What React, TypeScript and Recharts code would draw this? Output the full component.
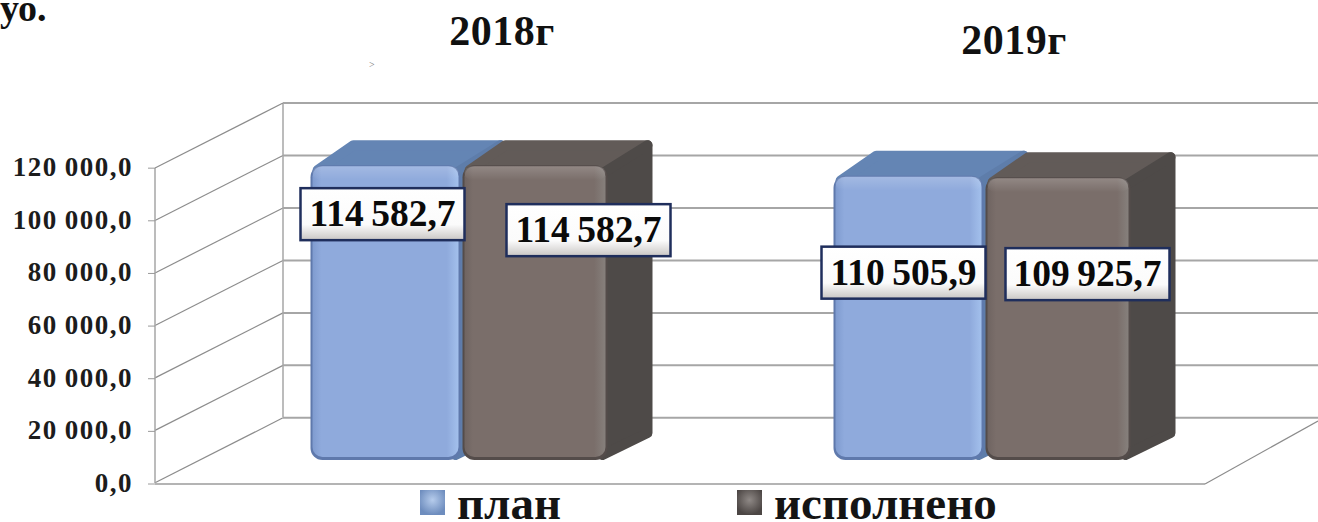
import { ComposedChart, Bar, XAxis, YAxis, ReferenceLine, LabelList, Legend } from 'recharts';

const years = ['2018г', '2019г'];
const planValues = [114582.7, 110505.9];
const doneValues = [114582.7, 109925.7];
const axisTicks = [0, 20000, 40000, 60000, 80000, 100000, 120000];

const chartData = years.map((year, i) => ({ year, plan: planValues[i], done: doneValues[i] }));

const SERIF = '"Liberation Serif", "Times New Roman", serif';
const DEPTH_X = 45;
const DEPTH_Y = 25;

// hand placed nudges, the labels in the picture don't sit on a common anchor
const planLabelNudge = [{ dx: -3, dy: 49 }, { dx: -5, dy: 97 }];
const doneLabelNudge = [{ dx: 51, dy: 65 }, { dx: 27, dy: 97 }];
const yearNudge = [{ dx: 41, y: 33 }, { dx: 30, y: 42 }];

const fmt = (v: number) => {
  const [whole, frac] = v.toFixed(1).split('.');
  return `${whole.replace(/\B(?=(\d{3})+$)/g, '\u2009')},${frac}`;
};

function makeBarShape(front: string, top: string, side: string, edge: string, inset: number) {
  return function BarShape(props: any) {
    const { x, y, width, height } = props;
    const w = width - inset;
    const r = x + w;
    const b = y + height;
    return (
      <g>
        <path
          d={`M${x + 7} ${y + 5} L${x + DEPTH_X - 2} ${y - DEPTH_Y + 5} L${r + DEPTH_X - 5} ${y - DEPTH_Y + 5} L${r - 5} ${y + 12} Z`}
          fill={top}
          stroke={top}
          strokeWidth={10}
          strokeLinejoin="round"
        />
        <path
          d={`M${r - 5} ${y + 8} L${r + DEPTH_X - 5} ${y - DEPTH_Y + 5} L${r + DEPTH_X - 5} ${b - DEPTH_Y - 2} L${r - 5} ${b - 5} Z`}
          fill={side}
          stroke={side}
          strokeWidth={10}
          strokeLinejoin="round"
        />
        <rect x={x} y={y} width={w} height={height} rx={12} fill={edge} />
        <rect x={x + 2} y={y + 1} width={w - 4} height={height - 4} rx={10} fill={`url(#${front})`} />
        <rect x={x + 2} y={y + 1} width={w - 4} height={14} rx={8} fill="url(#faceShine)" />
      </g>
    );
  };
}

const PlanShape = makeBarShape('planFace', '#6485B4', '#5E7DAA', '#5F79AC', 0);
const DoneShape = makeBarShape('doneFace', '#625B58', '#4E4A48', '#544C4A', 5);

function makeValueLabel(nudges: { dx: number; dy: number }[]) {
  return function ValueLabel(props: any) {
    const { x, y, width, value, index } = props;
    const n = nudges[index];
    const cx = x + width / 2 + n.dx;
    const cy = y + n.dy;
    return (
      <g>
        <rect x={cx - 82} y={cy - 26} width={164} height={52} fill="url(#labelFill)" stroke="#1F2E5C" strokeWidth={2.5} />
        <text
          x={cx}
          y={cy + 12}
          textAnchor="middle"
          fontFamily={SERIF}
          fontWeight="bold"
          fontSize={37.5}
          fill="#0A0A0A"
        >
          {fmt(value)}
        </text>
      </g>
    );
  };
}

function ValueTick(props: any) {
  const { y, payload } = props;
  return (
    <g>
      <line x1={148} y1={y} x2={155} y2={y} stroke="#9A9A9A" strokeWidth={1} />
      <text
        x={133}
        y={y + 8}
        textAnchor="end"
        fontFamily={SERIF}
        fontWeight="bold"
        fontSize={27}
        letterSpacing={1.5}
        fill="#1C1C1C"
      >
        {fmt(payload.value)}
      </text>
    </g>
  );
}

function YearTick(props: any) {
  const { x, payload, index } = props;
  const n = yearNudge[index];
  return (
    <text
      x={x + n.dx}
      y={n.y + 12}
      textAnchor="middle"
      fontFamily={SERIF}
      fontWeight="bold"
      fontSize={42}
      letterSpacing={0.5}
      fill="#111"
    >
      {payload.value}
    </text>
  );
}

// back wall line, with its run down the side wall
function WallLine(props: any) {
  const { y1 } = props;
  return (
    <g>
      <line x1={155} y1={y1 + 65} x2={283} y2={y1} stroke="#8C8C8C" strokeWidth={1.2} />
      <line x1={283} y1={y1} x2={1318} y2={y1} stroke="#A6A6A6" strokeWidth={2} />
    </g>
  );
}

function TopWallLine(props: any) {
  const { y1 } = props;
  return (
    <g>
      <line x1={283} y1={y1} x2={283} y2={y1 + 314} stroke="#A6A6A6" strokeWidth={1.5} />
      <line x1={155} y1={y1 + 65} x2={155} y2={y1 + 380} stroke="#A6A6A6" strokeWidth={1.5} />
      <WallLine y1={y1} />
    </g>
  );
}

function FloorLine(props: any) {
  const { y1 } = props;
  return (
    <g>
      <line x1={155} y1={y1} x2={1205} y2={y1} stroke="#B4B4B4" strokeWidth={2} />
      <line x1={1205} y1={y1} x2={1318} y2={y1 - 63} stroke="#8C8C8C" strokeWidth={1.2} />
    </g>
  );
}

function LegendBox(props: any) {
  const items = props.payload ?? [];
  const lefts = [420, 737];
  return (
    <div style={{ position: 'relative', width: 1318, height: 39 }}>
      {items.map((it: any, i: number) => (
        <div key={it.value} style={{ position: 'absolute', left: lefts[i], top: 0, display: 'flex', alignItems: 'flex-start' }}>
          <div
            style={{
              width: 25,
              height: 25,
              marginTop: 7,
              background: i === 0
                ? 'radial-gradient(circle at 50% 40%,#B6CCEC,#6E8DBE 75%)'
                : 'radial-gradient(circle at 50% 40%,#8F8986,#4C4644 75%)',
            }}
          />
          <span
            style={{
              marginLeft: 12,
              marginTop: 2,
              fontFamily: SERIF,
              fontWeight: 'bold',
              fontSize: 47,
              color: '#141414',
              lineHeight: '37px',
            }}
          >
            {it.value}
          </span>
        </div>
      ))}
    </div>
  );
}

export default function App() {
  return (
    <div style={{ position: 'relative', width: 1318, height: 522, background: '#fff', overflow: 'hidden' }}>
      <style>{'body{margin:0}'}</style>
      <div style={{ position: 'absolute', left: 0, top: -14, fontFamily: SERIF, fontWeight: 'bold', fontSize: 38, color: '#111' }}>уо.</div>
      <div style={{ position: 'absolute', left: 369, top: 59, fontFamily: SERIF, fontSize: 10, color: '#777' }}>&gt;</div>
      <ComposedChart
        width={1318}
        height={522}
        data={chartData}
        margin={{ top: 102, right: 72.5, bottom: 38, left: 198.5 }}
        barSize={150}
        barGap={2}
      >
        <defs>
          <linearGradient id="planFace" x1="0" y1="0" x2="1" y2="0">
            <stop offset="0" stopColor="#7F9BCF" />
            <stop offset="0.06" stopColor="#8FAADC" />
            <stop offset="0.92" stopColor="#8FAADC" />
            <stop offset="1" stopColor="#A3C0EC" />
          </linearGradient>
          <linearGradient id="doneFace" x1="0" y1="0" x2="1" y2="0">
            <stop offset="0" stopColor="#6F6461" />
            <stop offset="0.06" stopColor="#7A6E6A" />
            <stop offset="0.92" stopColor="#7A6E6A" />
            <stop offset="1" stopColor="#86807C" />
          </linearGradient>
          <linearGradient id="faceShine" x1="0" y1="0" x2="0" y2="1">
            <stop offset="0" stopColor="#FFFFFF" stopOpacity={0.18} />
            <stop offset="1" stopColor="#FFFFFF" stopOpacity={0} />
          </linearGradient>
          <linearGradient id="labelFill" x1="0" y1="0" x2="0" y2="1">
            <stop offset="0" stopColor="#FFFFFF" />
            <stop offset="0.7" stopColor="#FBFBFB" />
            <stop offset="1" stopColor="#C9C6C4" />
          </linearGradient>
        </defs>
        <XAxis
          dataKey="year"
          orientation="top"
          height={1}
          axisLine={false}
          tickLine={false}
          interval={0}
          tick={<YearTick />}
        />
        <YAxis
          yAxisId="front"
          width={1}
          domain={[0, 144762]}
          allowDataOverflow
          ticks={axisTicks}
          interval={0}
          axisLine={false}
          tickLine={false}
          tick={<ValueTick />}
        />
        <YAxis yAxisId="back" hide domain={[-25223, 120000]} allowDataOverflow />
        <YAxis yAxisId="bar" hide domain={[-9354, 138750]} allowDataOverflow />

        {axisTicks.slice(1, -1).map((t) => (
          <ReferenceLine key={t} yAxisId="back" y={t} zIndex={100} shape={<WallLine />} />
        ))}
        <ReferenceLine yAxisId="back" y={0} zIndex={100} shape={<WallLine />} />
        <ReferenceLine yAxisId="back" y={120000} zIndex={100} shape={<TopWallLine />} />
        <ReferenceLine yAxisId="front" y={0} zIndex={100} shape={<FloorLine />} />

        <Bar yAxisId="bar" dataKey="plan" name="план" fill="#8FAADC" isAnimationActive={false} shape={PlanShape}>
          <LabelList dataKey="plan" content={makeValueLabel(planLabelNudge)} />
        </Bar>
        <Bar yAxisId="bar" dataKey="done" name="исполнено" fill="#7A6E6A" isAnimationActive={false} shape={DoneShape}>
          <LabelList dataKey="done" content={makeValueLabel(doneLabelNudge)} />
        </Bar>

        <Legend
          layout="horizontal"
          verticalAlign="middle"
          itemSorter={null}
          content={<LegendBox />}
          wrapperStyle={{ left: 0, top: 483, width: 1318 }}
        />
      </ComposedChart>
    </div>
  );
}
